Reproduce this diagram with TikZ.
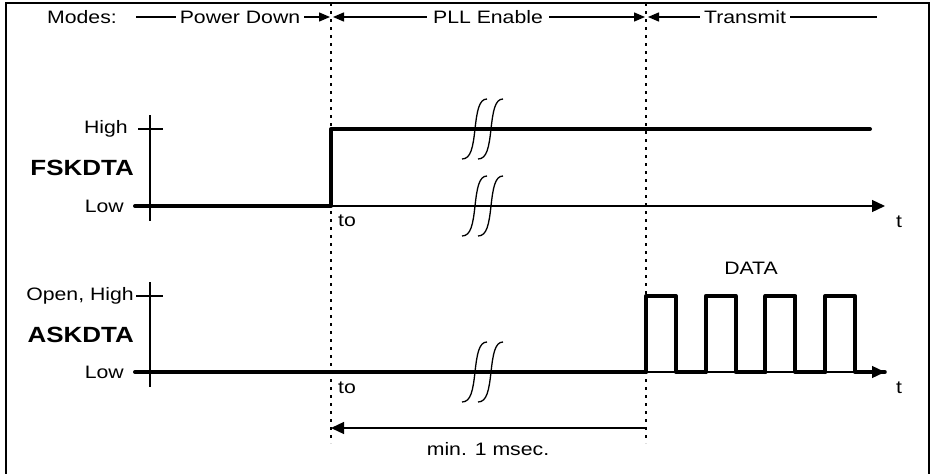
\documentclass[tikz,border=0pt]{standalone}
\usepackage{fontspec}
\setmainfont{Liberation Sans}[FakeStretch=1.18]
\usetikzlibrary{positioning}
\usetikzlibrary{arrows.meta}

\tikzset{
	txt/.style={inner sep=0pt,font=\fontsize{18}{21}\selectfont},
	signame/.style={inner sep=0pt,font=\bfseries\fontsize{22}{25}\selectfont},
	sig/.style={line width=4pt,line cap=round,line join=round},
	axisline/.style={line width=1.3pt},
	divider/.style={line width=2pt,dash pattern=on 2.5pt off 5.5pt},
	headtip/.style={-{Triangle[length=11pt,width=9pt]}},
	axtip/.style={-{Triangle[length=13pt,width=12pt]}}
}

\begin{document}
\begin{tikzpicture}[x=1pt,y=-1pt]
		\useasboundingbox (0,0) rectangle (930,474);
		%Frame
			\draw[line width=1.8pt] (6,480) -- (6,3) -- (929,3) -- (929,480);
		%Mode boundaries
			\coordinate (ta) at (331,3);
			\coordinate (tb) at (331,443);
			\coordinate (ua) at (646,3);
			\coordinate (ub) at (646,443);
			\draw[divider] (ta) -- (tb);
			\draw[divider] (ua) -- (ub);
		%Modes
			\node[txt] (modes) at (82,17) {Modes:};
			\node[txt,inner sep=4pt] (pd) at (240,17) {Power Down};
			\node[txt,inner sep=6pt] (pll) at (488,17) {PLL Enable};
			\node[txt,inner sep=4pt] (tx) at (745,17) {Transmit};
			\coordinate (pdl) at (136,17);
			\coordinate (tl) at (330,17);
			\coordinate (tr) at (333,17);
			\coordinate (ul) at (645,17);
			\coordinate (ur) at (648,17);
			\coordinate (txr) at (877,17);
			\draw[axisline] (pdl) -- (pd.west);
			\draw[axisline,headtip] (pd.east) -- (tl);
			\draw[axisline,headtip] (pll.west) -- (tr);
			\draw[axisline,headtip] (pll.east) -- (ul);
			\draw[axisline,headtip] (tx.west) -- (ur);
			\draw[axisline] (tx.east) -- (txr);
		%FSKDTA
			\node[txt,anchor=east] (fhigh) at (128,129) {High};
			\node[signame,anchor=east] (fsk) at (134,168) {FSKDTA};
			\node[txt,anchor=east] (flow) at (124,206) {Low};
			\coordinate (fy0) at (150,115);
			\coordinate (fy1) at (150,221);
			\coordinate (fk0) at (138,129);
			\coordinate (fk1) at (163,129);
			\coordinate (fx0) at (150,206);
			\coordinate (fx1) at (885,206);
			\draw[axisline] (fy0) -- (fy1);
			\draw[axisline] (fk0) -- (fk1);
			\draw[axisline,axtip] (fx0) -- (fx1);
			\draw[sig] (135,206) -- (331,206) -- (331,129) -- (870,129);
			\node[txt,anchor=west] (fto) at (338,221) {to};
			\node[txt] (ft) at (899,222) {t};
		%ASKDTA
			\node[txt,anchor=east] (ahigh) at (134,296) {Open, High};
			\node[signame,anchor=east] (ask) at (134,335) {ASKDTA};
			\node[txt,anchor=east] (alow) at (124,372) {Low};
			\coordinate (ay0) at (150,282);
			\coordinate (ay1) at (150,387);
			\coordinate (ak0) at (136,296);
			\coordinate (ak1) at (163,296);
			\coordinate (ax0) at (150,372);
			\coordinate (ax1) at (885,372);
			\draw[axisline] (ay0) -- (ay1);
			\draw[axisline] (ak0) -- (ak1);
			\draw[axisline,axtip] (ax0) -- (ax1);
			\draw[sig] (135,372) -- (646,372);
			\foreach \i in {0,...,3}
			{
				\draw[sig] (646+59.7*\i,372) -- (646+59.7*\i,296) -- (676+59.7*\i,296) -- (676+59.7*\i,372) -- (705.7+59.7*\i,372);
			}
			\node[txt] (data) at (751,268) {DATA};
			\node[txt,anchor=west] (ato) at (338,388) {to};
			\node[txt] (at) at (899,388) {t};
		%Breaks
			\foreach \y in {129,206,372}
			{
				\foreach \x in {475,491}
				{
					\draw[line width=1.3pt] (\x-13,\y+30) .. controls (\x-4,\y+30) and (\x-2,\y+18) .. (\x,\y) .. controls (\x+2,\y-18) and (\x+4,\y-30) .. (\x+12,\y-30);
				}
			}
		%Duration
			\coordinate (m0) at (331,428);
			\coordinate (m1) at (646,428);
			\draw[axisline,axtip,{Triangle[length=13pt,width=12pt]}-] (m0) -- (m1);
			\node[txt] (min) at (488,449) {min. 1 msec.};
	\end{tikzpicture}
\end{document}
